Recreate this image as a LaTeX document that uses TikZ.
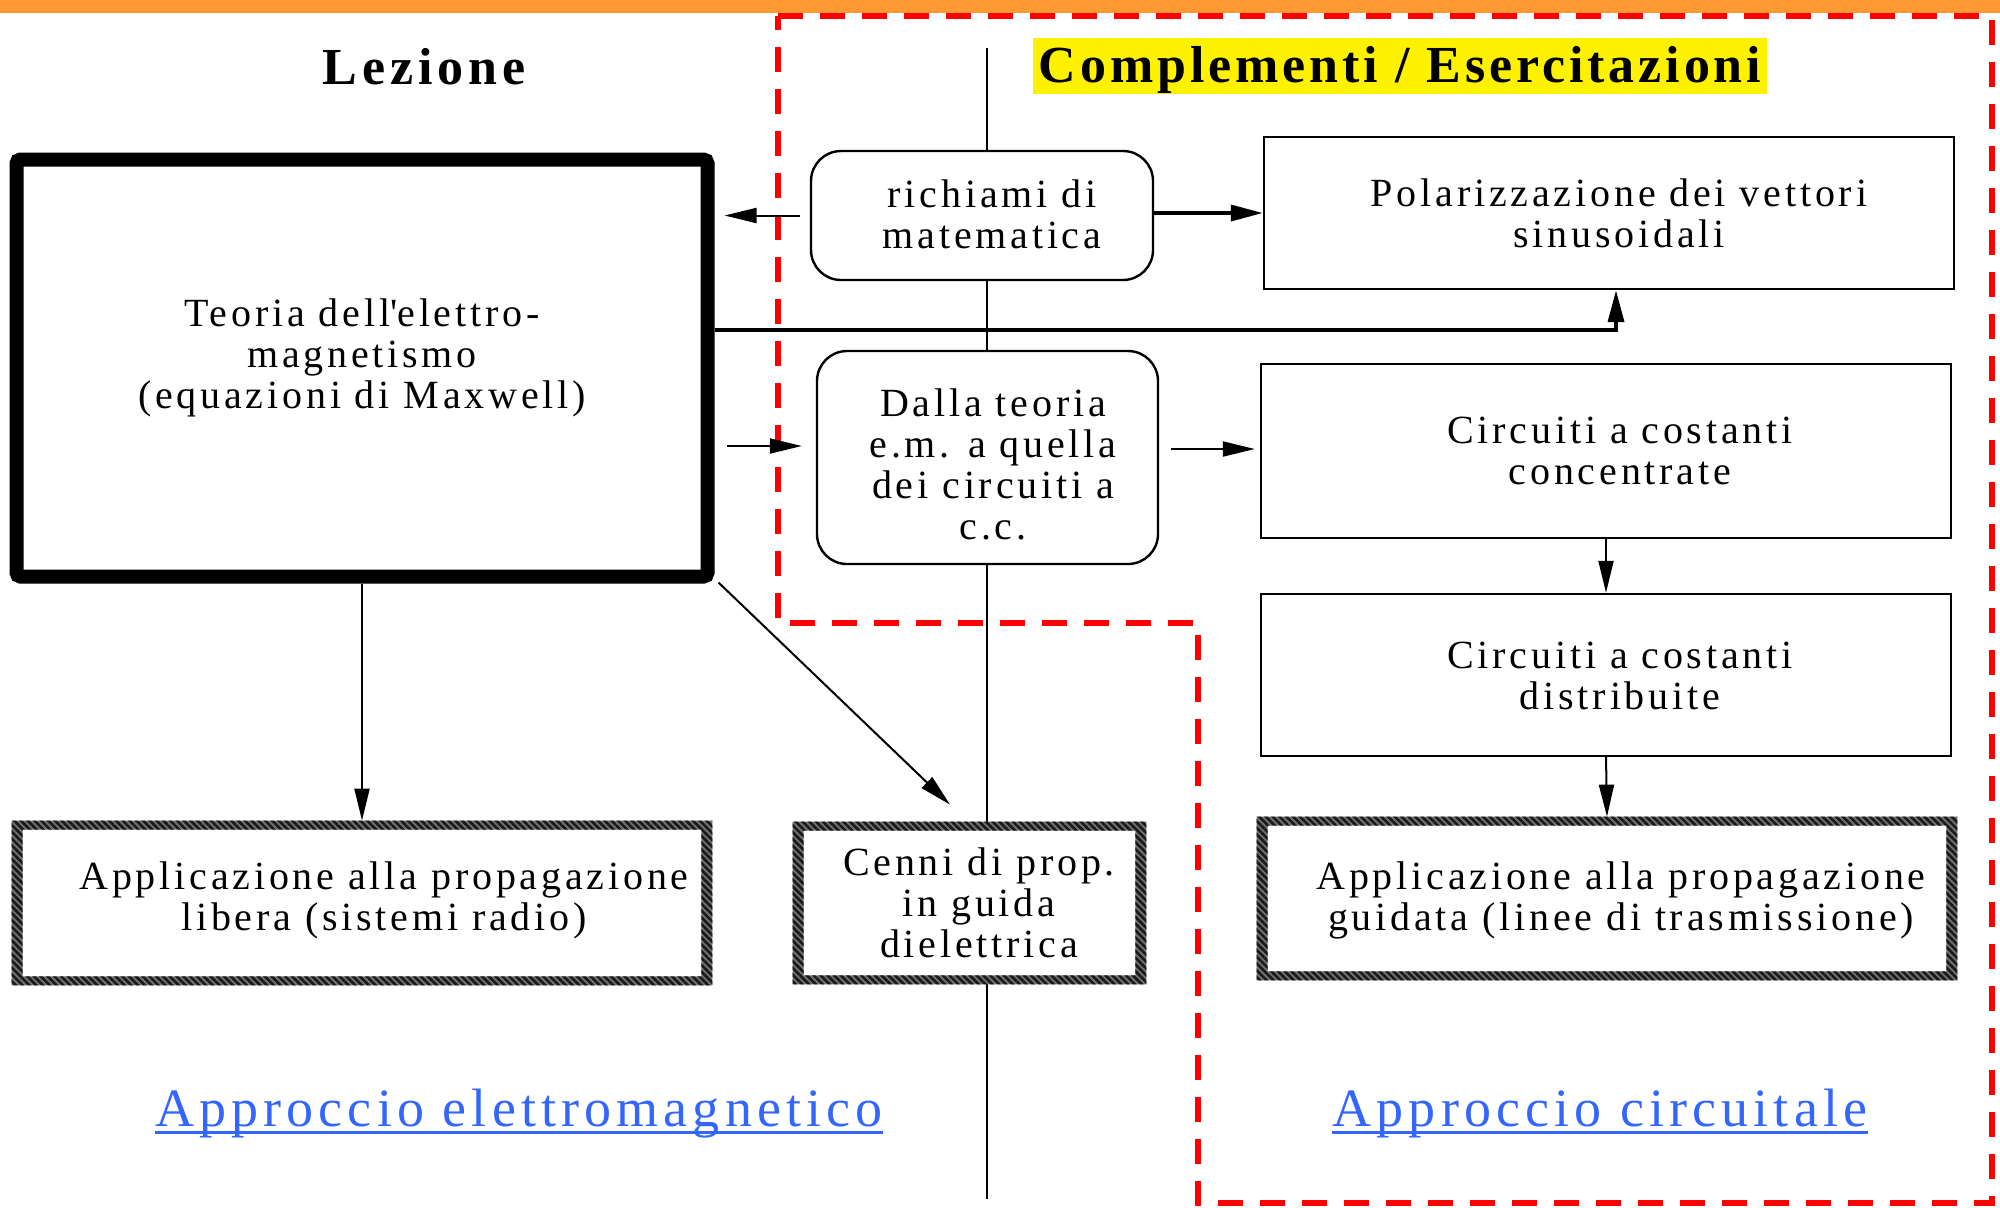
\documentclass[tikz,border=0pt]{standalone}
\usepackage{fontspec}
\setmainfont{Liberation Serif}[LetterSpace=9.5]
\usetikzlibrary{arrows.meta,calc,fit,patterns.meta}
\definecolor{orangebar}{HTML}{FF9933}
\definecolor{linkblue}{HTML}{3366FF}
\definecolor{hatchgray}{HTML}{707070}
\begin{document}
\begin{tikzpicture}[x=0.5pt,y=-0.5pt,
  box/.style={draw=black, line width=1.2pt, fill=white, inner sep=0pt},
  rbox/.style={box, rounded corners=15pt},
  thickbox/.style={draw=black, line width=7pt, fill=white, inner sep=0pt, rounded corners=2pt},
  hbox/.style={fill=white, inner sep=0pt},
  hatchring/.style={fill=hatchgray, even odd rule},
  hatchlines/.style={pattern={Lines[angle=-45,distance=2.4pt,line width=1.3pt]}, pattern color=black!90, even odd rule},
  txt/.style={font=\fontsize{20pt}{20.5pt}\selectfont, align=center, anchor=base, inner sep=0pt},
  arr/.style={-{Triangle[length=16pt,width=7.5pt]}, line width=1pt},
  arrthick/.style={-{Triangle[length=16pt,width=8pt]}, line width=1.8pt},
  reddash/.style={draw=red, line width=2.8pt, dash pattern=on 12.5pt off 8.5pt},
  titletxt/.style={font=\fontsize{26pt}{30pt}\selectfont\bfseries, anchor=base, inner sep=0pt},
  approach/.style={font=\fontsize{27pt}{30pt}\selectfont, text=linkblue, anchor=base, inner sep=0pt},
]
\path[use as bounding box, fill=white] (0,0) rectangle (2000,1207);

% divider
\coordinate (divtop) at (987,48);
\coordinate (divbot) at (987,1199);
\draw[line width=1pt] (divtop) -- (divbot);

% red dashed region
\draw[reddash] (778,16) -- (1992,16) -- (1992,1203) -- (1198,1203) -- (1198,623) -- (778,623) -- cycle;

% orange bar
\fill[orangebar] (0,0) rectangle (2000,13);

% titles
\node[titletxt] (lez) at (424,84) {Lezione};
\node[titletxt, fill=yellow, inner xsep=3pt, text height=22pt, text depth=6pt] (comp) at (1400,82) {\addfontfeature{LetterSpace=7.5}Complementi / Esercitazioni};

% boxes
\node[thickbox, fit={(16.5,159.5) (707.5,576.5)}] (teo) {};
\node[rbox, fit={(811,151) (1153,280)}] (ric) {};
\node[rbox, fit={(817,351) (1158,564)}] (dal) {};
\node[box, fit={(1264,137) (1954,289)}] (pol) {};
\node[box, fit={(1261,364) (1951,538)}] (conc) {};
\node[box, fit={(1261,594) (1951,756)}] (dist) {};
\node[hbox, fit={(12,821) (712,985)}] (lib) {};
\node[hbox, fit={(793,822) (1146,984)}] (cen) {};
\node[hbox, fit={(1257,817) (1957,980)}] (gui) {};

\foreach \b in {lib,cen,gui} {
  \fill[hatchring] (\b.north west) rectangle (\b.south east)
    ($(\b.north west)+(11,9)$) rectangle ($(\b.south east)+(-11,-9)$);
  \fill[hatchlines] (\b.north west) rectangle (\b.south east)
    ($(\b.north west)+(11,9)$) rectangle ($(\b.south east)+(-11,-9)$);
}

% texts (anchor = baseline of last line)
\node[txt] (teot) at (362,408) {Teoria dell\textquotesingle elettro-\\magnetismo\\(equazioni di Maxwell)};
\node[txt] (rict) at (992,248) {richiami di\\matematica};
\node[txt] (dalt) at (993,539) {Dalla teoria\\e.m. a quella\\dei circuiti a\\c.c.};
\node[txt] (polt) at (1619,247) {Polarizzazione dei vettori\\sinusoidali};
\node[txt] (conct) at (1620,484) {Circuiti a costanti\\concentrate};
\node[txt] (distt) at (1620,709) {Circuiti a costanti\\distribuite};
\node[txt] (libt) at (384,930) {Applicazione alla propagazione\\libera (sistemi radio)};
\node[txt] (cent) at (979,957) {Cenni di prop.\\in guida\\dielettrica};
\node[txt] (guit) at (1621,930) {Applicazione alla propagazione\\guidata (linee di trasmissione)};

% bottom labels
\node[approach] (ae) at (519,1126) {Approccio elettromagnetico};
\node[approach] (ac) at (1600,1126) {Approccio circuitale};
\draw[linkblue, line width=1.5pt] ($(ae.base west)+(0,6)$) -- ($(ae.base east)+(0,6)$);
\draw[linkblue, line width=1.5pt] ($(ac.base west)+(0,6)$) -- ($(ac.base east)+(0,6)$);

% connectors
\draw[arr] ($(ric.west)+(-10,0)$) -- ($(teo.east |- ric.west)+(10,0)$);
\draw[arrthick] (ric.east |- pol.west) -- (pol.west);
\draw[arrthick] ($(teo.east)+(0,-38)$) -| ($(pol.south)+(7,0)$);
\draw[arr] ($(teo.east)+(12,78)$) -- ($(dal.west)+(-14,-11.5)$);
\draw[arr] ($(dal.east)+(12,-8.5)$) -- ($(conc.west)+(-5,-2)$);
\draw[arr] (conc.south) -- (dist.north);
\draw[arr] (dist.south) -- (gui.north);
\draw[arr] (teo.south) -- (lib.north);
\draw[arr] ($(teo.south east)+(4,-1)$) -- ($(cen.north)+(-19.5,-17)$);
\end{tikzpicture}
\end{document}
